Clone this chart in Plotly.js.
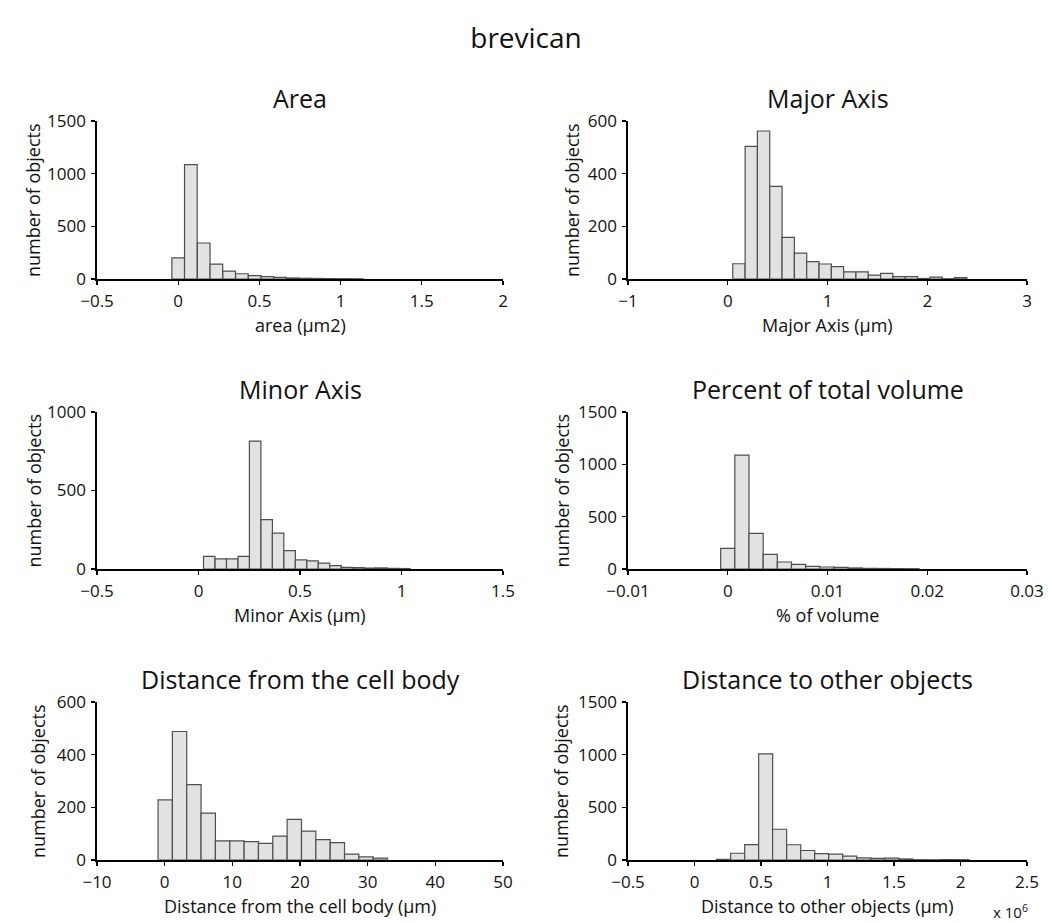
<!DOCTYPE html>
<html>
<head>
<meta charset="utf-8">
<script src="https://cdn.plot.ly/plotly-3.0.1.min.js"></script>
<style>
  html, body { margin: 0; padding: 0; background: #ffffff; }
  #chart { width: 1052px; height: 923px; }
</style>
</head>
<body>
<div id="chart"></div>
<script>
// Histograms of object measurements for brevican (bin centers and counts per bin)

// Area (µm2)
const areaBins   = [0.000, 0.078, 0.157, 0.235, 0.314, 0.392, 0.471, 0.549, 0.627, 0.706, 0.784, 0.863, 0.941, 1.020, 1.098];
const areaCounts = [200, 1085, 342, 142, 74, 50, 32, 22, 16, 10, 7, 5, 4, 3, 2];
const areaWidth  = 0.078;

// Major axis (µm)
const majorBins   = [0.112, 0.236, 0.359, 0.483, 0.606, 0.730, 0.853, 0.977, 1.100, 1.224, 1.347, 1.471, 1.594, 1.718, 1.841, 1.965, 2.088, 2.212, 2.335];
const majorCounts = [58, 504, 562, 352, 158, 98, 66, 57, 47, 27, 27, 15, 21, 9, 9, 2, 7, 1, 5];
const majorWidth  = 0.1235;

// Minor axis (µm)
const minorBins   = [0.053, 0.110, 0.166, 0.223, 0.279, 0.336, 0.392, 0.449, 0.505, 0.562, 0.618, 0.675, 0.731, 0.788, 0.844, 0.901, 0.957, 1.014];
const minorCounts = [80, 64, 64, 80, 814, 315, 228, 117, 58, 52, 37, 22, 10, 9, 6, 7, 4, 3];
const minorWidth  = 0.0565;

// Percent of total volume
const volumeBins   = [0.00000, 0.00142, 0.00284, 0.00426, 0.00568, 0.00710, 0.00852, 0.00994, 0.01136, 0.01278, 0.01420, 0.01562, 0.01704, 0.01846];
const volumeCounts = [198, 1088, 341, 140, 67, 45, 26, 19, 16, 10, 6, 5, 4, 3];
const volumeWidth  = 0.00142;

// Distance from the cell body (µm)
const cellBins   = [0.08, 2.20, 4.32, 6.44, 8.56, 10.68, 12.80, 14.92, 17.04, 19.16, 21.28, 23.40, 25.52, 27.64, 29.76, 31.88];
const cellCounts = [228, 488, 286, 178, 73, 73, 70, 63, 91, 154, 110, 77, 66, 22, 12, 7];
const cellWidth  = 2.12;

// Distance to other objects (µm, in units of 10^6)
const otherBins   = [0.219, 0.324, 0.430, 0.535, 0.640, 0.746, 0.851, 0.956, 1.062, 1.167, 1.273, 1.378, 1.483, 1.589, 1.694, 1.800, 1.905, 2.010];
const otherCounts = [6, 64, 146, 1008, 292, 145, 90, 60, 55, 36, 20, 15, 18, 10, 3, 2, 4, 3];
const otherWidth  = 0.1054;

const FONT = '"Open Sans", "Noto Sans", "DejaVu Sans", sans-serif';
const INK = '#111111';
const W = 1052, H = 923;

function bars(x, y, w, xa, ya) {
  return {
    type: 'bar', x: x, y: y, width: w,
    xaxis: xa, yaxis: ya,
    marker: { color: '#e2e2e2', line: { color: '#4f4f4f', width: 1.2 } },
    hoverinfo: 'x+y', showlegend: false
  };
}

const data = [
  bars(areaBins, areaCounts, areaWidth, 'x', 'y'),
  bars(majorBins, majorCounts, majorWidth, 'x2', 'y2'),
  bars(minorBins, minorCounts, minorWidth, 'x3', 'y3'),
  bars(volumeBins, volumeCounts, volumeWidth, 'x4', 'y4'),
  bars(cellBins, cellCounts, cellWidth, 'x5', 'y5'),
  bars(otherBins, otherCounts, otherWidth, 'x6', 'y6')
];

// plot boxes in pixels: [left, right, top, bottom]
const boxes = [
  [97, 503, 121, 279], [628, 1027, 121, 279],
  [97, 503, 412, 569], [628, 1027, 412, 569],
  [97, 503, 702, 860], [628, 1027, 702, 860]
];

const xRanges = [[-0.5, 2], [-1, 3], [-0.5, 1.5], [-0.01, 0.03], [-10, 50], [-0.5, 2.5]];
const xDticks = [0.5, 1, 0.5, 0.01, 10, 0.5];
const yRanges = [[0, 1500], [0, 600], [0, 1000], [0, 1500], [0, 600], [0, 1500]];
const yDticks = [500, 200, 500, 500, 200, 500];

const panelTitles = ['Area', 'Major Axis', 'Minor Axis', 'Percent of total volume',
                     'Distance from the cell body', 'Distance to other objects'];
const xTitles = ['area (µm2)', 'Major Axis (µm)', 'Minor Axis (µm)', '% of volume',
                 'Distance from the cell body (µm)', 'Distance to other objects (µm)'];
const yTitleX = [33, 572, 33, 561, 38, 561];

const layout = {
  width: W, height: H,
  margin: { l: 0, r: 0, t: 0, b: 0 },
  paper_bgcolor: '#ffffff', plot_bgcolor: 'rgba(0,0,0,0)',
  font: { family: FONT, color: INK, size: 17 },
  bargap: 0,
  annotations: [],
  title: { text: 'brevican', font: { family: FONT, size: 28, color: INK },
           x: 0.5, xanchor: 'center', y: 1 - 38 / H, yanchor: 'middle' }
};

boxes.forEach((b, i) => {
  const n = i === 0 ? '' : String(i + 1);
  const axCommon = {
    showline: true, linecolor: '#000000', linewidth: 1.6,
    ticks: 'outside', ticklen: 4, tickwidth: 1.4, tickcolor: '#000000',
    showgrid: false, zeroline: false, fixedrange: true,
    tickfont: { family: FONT, size: 17, color: INK }
  };
  layout['xaxis' + n] = Object.assign({}, axCommon, {
    domain: [b[0] / W, b[1] / W], anchor: 'y' + n,
    range: xRanges[i], tick0: 0, dtick: xDticks[i], ticklabelstandoff: 2
  });
  layout['yaxis' + n] = Object.assign({}, axCommon, {
    domain: [1 - b[3] / H, 1 - b[2] / H], anchor: 'x' + n,
    range: yRanges[i], tick0: 0, dtick: yDticks[i], ticklabelstandoff: 2
  });
  const cx = (b[0] + b[1]) / 2;
  layout.annotations.push({
    text: panelTitles[i], xref: 'paper', yref: 'paper',
    x: cx / W, y: 1 - (b[2] - 23) / H, xanchor: 'center', yanchor: 'middle',
    showarrow: false, font: { family: FONT, size: 25, color: INK }
  });
  layout.annotations.push({
    text: xTitles[i], xref: 'paper', yref: 'paper',
    x: cx / W, y: 1 - (b[3] + 46) / H, xanchor: 'center', yanchor: 'middle',
    showarrow: false, font: { family: FONT, size: 18, color: INK }
  });
  layout.annotations.push({
    text: 'number of objects', xref: 'paper', yref: 'paper', textangle: -90,
    x: yTitleX[i] / W, y: 1 - ((b[2] + b[3]) / 2) / H, xanchor: 'center', yanchor: 'middle',
    showarrow: false, font: { family: FONT, size: 18, color: INK }
  });
});

// scale factor of the last panel's x axis
layout.annotations.push({
  text: 'x 10<sup>6</sup>', xref: 'paper', yref: 'paper',
  x: 1030 / W, y: 1 - 911 / H, xanchor: 'right', yanchor: 'middle',
  showarrow: false, font: { family: FONT, size: 15, color: INK }
});

Plotly.newPlot('chart', data, layout, { displayModeBar: false, staticPlot: true });
</script>
</body>
</html>
